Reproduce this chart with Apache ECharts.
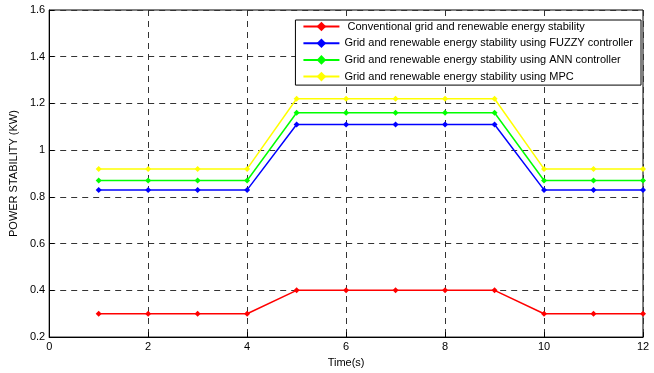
<!DOCTYPE html>
<html>
<head>
<meta charset="utf-8">
<script src="https://cdn.jsdelivr.net/npm/echarts@6/dist/echarts.min.js"></script>
<style>
html, body { margin: 0; padding: 0; background: #fff; }
#curve { width: 654px; height: 373px; }
</style>
</head>
<body>
<div id="curve"></div>
<script>
// 数据
var timeS = [1, 2, 3, 4, 5, 6, 7, 8, 9, 10, 11, 12];
var conventional = [0.3, 0.3, 0.3, 0.3, 0.4, 0.4, 0.4, 0.4, 0.4, 0.3, 0.3, 0.3];
var fuzzy = [0.83, 0.83, 0.83, 0.83, 1.11, 1.11, 1.11, 1.11, 1.11, 0.83, 0.83, 0.83];
var ann = [0.87, 0.87, 0.87, 0.87, 1.16, 1.16, 1.16, 1.16, 1.16, 0.87, 0.87, 0.87];
var mpc = [0.92, 0.92, 0.92, 0.92, 1.22, 1.22, 1.22, 1.22, 1.22, 0.92, 0.92, 0.92];
var names = [
    'Conventional grid and renewable energy stability',
    'Grid and renewable energy stability using FUZZY controller',
    'Grid and renewable energy stability using ANN controller',
    'Grid and renewable energy stability using MPC'
];
var colors = ['#ff0000', '#0000ff', '#00ff00', '#ffff00'];

var myChart = echarts.init(document.getElementById('curve'));

function pairs(ys) {
    return timeS.map(function (t, i) { return [t, ys[i]]; });
}

function makeSeries(name, ys, color) {
    return {
        name: name,
        type: 'line',
        data: pairs(ys),
        symbol: 'diamond',
        symbolSize: 6,
        showSymbol: true,
        lineStyle: { color: color, width: 1.5 },
        itemStyle: { color: color },
        animation: false
    };
}

var fontFam = '"Liberation Sans", Arial, sans-serif';

var option = {
    animation: false,
    grid: {
        left: 49, right: 11, top: 10, bottom: 35,
        show: true, borderColor: '#000', borderWidth: 1
    },
    legend: {
        orient: 'vertical',
        right: 13, top: 20,
        backgroundColor: '#fff',
        borderColor: '#000',
        borderWidth: 1,
        borderRadius: 0,
        padding: [1, 8, 3, 7],
        itemGap: 5.7,
        itemWidth: 36,
        itemHeight: 12,
        textStyle: { fontFamily: fontFam, fontSize: 11, color: '#000' },
        formatter: function (n) {
            // 第一项前面有空格
            return n === names[0] ? ' ' + n : n;
        },
        data: names
    },
    xAxis: {
        type: 'value',
        min: 0, max: 12, interval: 2,
        name: 'Time(s)',
        nameLocation: 'middle',
        nameGap: 19,
        nameTextStyle: { fontFamily: fontFam, fontSize: 11, color: '#000' },
        axisLine: { onZero: false, lineStyle: { color: '#000' } },
        axisTick: { inside: true, length: 5, lineStyle: { color: '#000' } },
        axisLabel: { fontFamily: fontFam, fontSize: 11, color: '#000', margin: 4 },
        splitLine: { show: true, lineStyle: { color: '#333', type: [6, 5], width: 1 } }
    },
    yAxis: {
        type: 'value',
        min: 0.2, max: 1.6, interval: 0.2,
        name: 'POWER STABILITY (KW)',
        nameLocation: 'middle',
        nameGap: 25,
        nameTextStyle: { fontFamily: fontFam, fontSize: 11, color: '#000' },
        axisLine: { onZero: false, lineStyle: { color: '#000' } },
        axisTick: { inside: true, length: 5, lineStyle: { color: '#000' } },
        axisLabel: { fontFamily: fontFam, fontSize: 11, color: '#000', margin: 4 },
        splitLine: { show: true, lineStyle: { color: '#333', type: [6, 5], width: 1 } }
    },
    series: [
        makeSeries(names[0], conventional, colors[0]),
        makeSeries(names[1], fuzzy, colors[1]),
        makeSeries(names[2], ann, colors[2]),
        makeSeries(names[3], mpc, colors[3])
    ]
};

myChart.setOption(option);
</script>
</body>
</html>
